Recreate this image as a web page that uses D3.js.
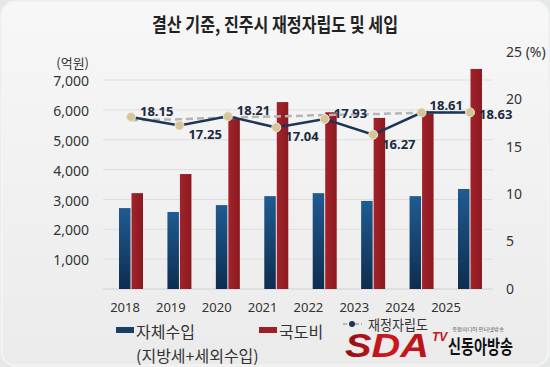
<!DOCTYPE html>
<html><head><meta charset="utf-8">
<script src="https://cdn.jsdelivr.net/npm/d3@7"></script>
<style>html,body{margin:0;padding:0;background:#e6e7e9;}svg{display:block;}</style>
</head><body>
<svg id="c" width="550" height="367"></svg>
<script>
const years = ["2018","2019","2020","2021","2022","2023","2024","2025"];
const ownRevenue = [2710, 2580, 2810, 3110, 3210, 2950, 3110, 3350];
const stateAid = [3210, 3850, 5690, 6260, 5920, 5730, 5960, 7370];
const fiscalIndep = [18.15, 17.25, 18.21, 17.04, 17.93, 16.27, 18.61, 18.63];
const trendLine = [17.8, 17.9, 18.1, 18.2, 18.35, 18.45, 18.6, 18.65];
const leftTicks = [0, 1000, 2000, 3000, 4000, 5000, 6000, 7000];
const rightTicks = [0, 5, 10, 15, 20];
const labelPos = ["ur","dr","ur","dr","ur","dr","u","r"];

const svg = d3.select("#c");
const defs = svg.append("defs");
const bg = defs.append("linearGradient").attr("id","bg").attr("x1",0).attr("y1",0).attr("x2",0).attr("y2",1);
bg.append("stop").attr("offset","0").attr("stop-color","#f7f7f7");
bg.append("stop").attr("offset","1").attr("stop-color","#ebebec");
const gb = defs.append("linearGradient").attr("id","gb").attr("x1",0).attr("y1",0).attr("x2",0).attr("y2",1);
gb.append("stop").attr("offset","0").attr("stop-color","#1f5b92");
gb.append("stop").attr("offset","1").attr("stop-color","#0e2d4f");
const gr = defs.append("linearGradient").attr("id","gr").attr("x1",0).attr("y1",0).attr("x2",1).attr("y2",0);
gr.append("stop").attr("offset","0").attr("stop-color","#a3222a");
gr.append("stop").attr("offset","1").attr("stop-color","#8a1a20");
const gl = defs.append("linearGradient").attr("id","gl").attr("x1",0).attr("y1",0).attr("x2",1).attr("y2",0);
gl.append("stop").attr("offset","0").attr("stop-color","#8e0f14");
gl.append("stop").attr("offset","0.5").attr("stop-color","#d0181f");
gl.append("stop").attr("offset","1").attr("stop-color","#b5141a");

svg.append("rect").attr("x",1.5).attr("y",1.5).attr("width",547).attr("height",364).attr("rx",14)
  .attr("fill","url(#bg)").attr("stroke","#f4f4f4").attr("stroke-width",2);

svg.append("text").attr("x",275).attr("y",32).attr("text-anchor","middle")
  .attr("font-family","Noto Sans CJK KR").attr("font-weight","bold").attr("font-size",19)
  .attr("fill","#222").attr("textLength",246).attr("lengthAdjust","spacingAndGlyphs")
  .text("결산 기준, 진주시 재정자립도 및 세입");

const x = d3.scalePoint().domain(years).range([131, 470]);
const xLab = d3.scalePoint().domain(years).range([124.5, 445.5]);
const yL = d3.scaleLinear().domain([0, 7000]).range([289, 80]);
const yR = d3.scaleLinear().domain([0, 25]).range([289, 52]);

// gridlines
svg.append("g").selectAll("line").data(leftTicks).join("line")
  .attr("x1",103).attr("x2",493).attr("y1",d=>yL(d)).attr("y2",d=>yL(d))
  .attr("stroke",d=>d===0?"#d0d0d0":"#dedede").attr("stroke-width",1);

// left axis
const axL = svg.append("g").attr("transform","translate(89,0)")
  .call(d3.axisLeft(yL).tickValues(leftTicks.slice(1)).tickFormat(d3.format(",")).tickSize(0).tickPadding(0));
axL.select(".domain").remove();
axL.selectAll("text").attr("font-family","Noto Sans").attr("font-size",14).attr("fill","#333").attr("dy","0.4em");
svg.append("text").attr("x",89).attr("y",68).attr("text-anchor","end")
  .attr("font-family","Noto Sans CJK KR").attr("font-size",13).attr("fill","#333").text("(억원)");

// right axis
const axR = svg.append("g").attr("transform","translate(506,0)")
  .call(d3.axisRight(yR).tickValues(rightTicks).tickSize(0).tickPadding(0));
axR.select(".domain").remove();
axR.selectAll("text").attr("font-family","Noto Sans").attr("font-size",14).attr("fill","#333").attr("dy","0.3em");
svg.append("text").attr("x",506).attr("y",yR(25)+5).attr("font-family","Noto Sans").attr("font-size",14)
  .attr("fill","#333").text("25 (%)");

// bars
svg.append("g").selectAll("rect").data(years).join("rect")
  .attr("x",d=>x(d)-12).attr("width",11.5)
  .attr("y",(d,i)=>yL(ownRevenue[i])).attr("height",(d,i)=>yL(0)-yL(ownRevenue[i]))
  .attr("fill","url(#gb)");
svg.append("g").selectAll("rect").data(years).join("rect")
  .attr("x",d=>x(d)+0.5).attr("width",11.5)
  .attr("y",(d,i)=>yL(stateAid[i])).attr("height",(d,i)=>yL(0)-yL(stateAid[i]))
  .attr("fill","url(#gr)");

// x labels
const axX = svg.append("g").attr("transform","translate(0,300)")
  .call(d3.axisBottom(xLab).tickSize(0).tickPadding(0));
axX.select(".domain").remove();
axX.selectAll("text").attr("font-family","Noto Sans").attr("font-size",13).attr("fill","#333").attr("dy","0.9em");

// dashed trend line
svg.append("path").datum(trendLine)
  .attr("d", d3.line().x((d,i)=>x(years[i])).y(d=>yR(d)))
  .attr("fill","none").attr("stroke","#b5b5b5").attr("stroke-width",2.5).attr("stroke-dasharray","7,4");

// fiscal independence line
svg.append("path").datum(fiscalIndep)
  .attr("d", d3.line().x((d,i)=>x(years[i])).y(d=>yR(d)))
  .attr("fill","none").attr("stroke","#1d3557").attr("stroke-width",2.5);
svg.append("g").selectAll("circle").data(fiscalIndep).join("circle")
  .attr("cx",(d,i)=>x(years[i])).attr("cy",d=>yR(d)).attr("r",4.5)
  .attr("fill","#d6c59a").attr("stroke","#efe6cf").attr("stroke-width",1);

// data labels
svg.append("g").selectAll("text").data(fiscalIndep).join("text")
  .attr("x",(d,i)=>x(years[i]) + (labelPos[i]==="u"?8:9))
  .attr("y",(d,i)=>{
    const p = labelPos[i], y = yR(d);
    if (p==="ur") return y-1; if (p==="dr") return y+14; if (p==="u") return y-3; return y+7;
  })
  .attr("font-family","Noto Sans").attr("font-weight","bold").attr("font-size",13)
  .attr("fill","#1b2a40").text(d=>d.toFixed(2));

// legend
const lg = svg.append("g").attr("font-family","Noto Sans CJK KR").attr("fill","#333");
lg.append("rect").attr("x",116).attr("y",327).attr("width",18).attr("height",6).attr("fill","#173f6a");
lg.append("text").attr("x",136).attr("y",338).attr("font-size",16).text("자체수입");
lg.append("text").attr("x",136).attr("y",362).attr("font-size",16).text("(지방세+세외수입)");
lg.append("rect").attr("x",259).attr("y",327).attr("width",18).attr("height",6).attr("fill","#9b1f26");
lg.append("text").attr("x",279).attr("y",338).attr("font-size",16).text("국도비");
lg.append("line").attr("x1",343).attr("x2",362).attr("y1",324).attr("y2",324).attr("stroke","#b5b5b5").attr("stroke-width",2).attr("stroke-dasharray","4,2");
lg.append("circle").attr("cx",352).attr("cy",324).attr("r",3).attr("fill","#1d3557");
lg.append("text").attr("x",368).attr("y",330).attr("font-size",14)
  .attr("textLength",60).attr("lengthAdjust","spacingAndGlyphs").text("재정자립도");

// watermark
const wm = svg.append("g");
wm.append("text").attr("x",345).attr("y",357).attr("font-family","Liberation Sans").attr("font-weight","bold")
  .attr("font-style","italic").attr("font-size",34).attr("fill","url(#gl)")
  .attr("textLength",84).attr("lengthAdjust","spacingAndGlyphs").text("SDA");
wm.append("text").attr("x",432).attr("y",341).attr("font-family","Liberation Sans").attr("font-weight","bold")
  .attr("font-style","italic").attr("font-size",12).attr("fill","#c0161c").text("TV");
wm.append("text").attr("x",452).attr("y",331).attr("font-family","Noto Sans CJK KR")
  .attr("font-size",5).attr("fill","#555").attr("textLength",52).attr("lengthAdjust","spacingAndGlyphs").text("종합미디어 인터넷방송");
wm.append("text").attr("x",448).attr("y",354).attr("font-family","Noto Sans CJK KR").attr("font-weight","bold")
  .attr("font-size",19).attr("fill","#111").attr("textLength",65).attr("lengthAdjust","spacingAndGlyphs").text("신동아방송");
</script>
</body></html>
